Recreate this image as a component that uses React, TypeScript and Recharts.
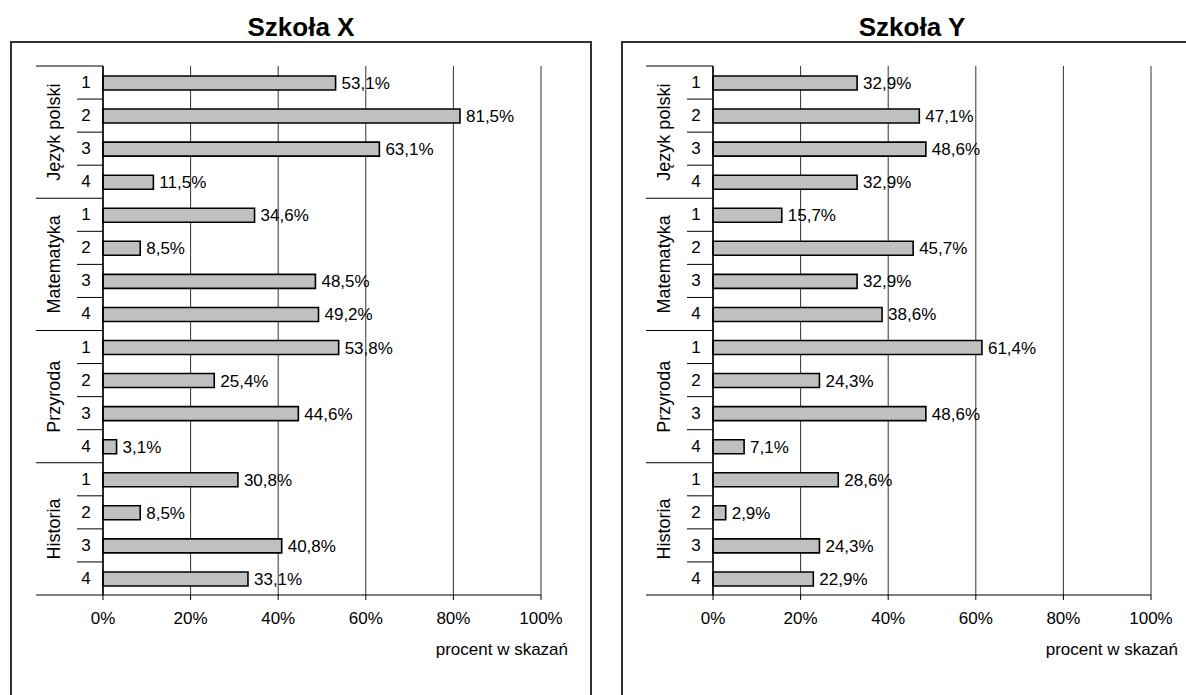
import React from 'react';
import { BarChart, Bar, XAxis, YAxis, CartesianGrid, LabelList, Label } from 'recharts';

const subjects = ['Język polski', 'Matematyka', 'Przyroda', 'Historia'];
const items = ['1', '2', '3', '4'];
const schoolXValues = [53.1, 81.5, 63.1, 11.5, 34.6, 8.5, 48.5, 49.2, 53.8, 25.4, 44.6, 3.1, 30.8, 8.5, 40.8, 33.1];
const schoolYValues = [32.9, 47.1, 48.6, 32.9, 15.7, 45.7, 32.9, 38.6, 61.4, 24.3, 48.6, 7.1, 28.6, 2.9, 24.3, 22.9];
const xTicks = [0, 20, 40, 60, 80, 100];
const titles = ['Szkoła X', 'Szkoła Y'];
const axisTitle = 'procent w skazań';

const FONT = '"Liberation Sans", Arial, sans-serif';
const W = 578;
const H = 650;
const MARGIN = { top: 24, right: 49, bottom: 57, left: 0 };
const Y_AXIS_W = 91;
const X_AXIS_H = 40;
const PLOT_H = H - MARGIN.top - MARGIN.bottom - X_AXIS_H;
const BAND = PLOT_H / 16;

function buildRows(values: number[]) {
  return subjects.flatMap((s, si) =>
    items.map((it, ii) => ({ key: `${s}|${it}`, subject: s, item: it, value: values[si * 4 + ii] }))
  );
}

function CategoryTick(props: any) {
  const { x, y, payload, index } = props;
  const [subject, item] = String(payload.value).split('|');
  const pos = index % 4;
  const half = BAND / 2;
  const gx = x - 49;
  const gy = y + 1.5 * BAND;
  return (
    <g>
      <text x={x - 17} y={y} textAnchor="middle" dominantBaseline="central" fontSize={17} fontFamily={FONT} fill="#000">
        {item}
      </text>
      {pos < 3 && <line x1={x - 26} x2={x} y1={y + half} y2={y + half} stroke="#000" strokeWidth={1} />}
      {pos === 3 && <line x1={x - 67} x2={x} y1={y + half} y2={y + half} stroke="#000" strokeWidth={1} />}
      {index === 0 && <line x1={x - 67} x2={x} y1={y - half} y2={y - half} stroke="#000" strokeWidth={1} />}
      {pos === 0 && (
        <text
          x={gx}
          y={gy}
          textAnchor="middle"
          dominantBaseline="central"
          fontSize={18}
          fontFamily={FONT}
          fill="#000"
          transform={`rotate(-90, ${gx}, ${gy})`}
        >
          {subject}
        </text>
      )}
    </g>
  );
}

const fmt = (v: any) => `${Number(v).toFixed(1).replace('.', ',')}%`;

function Panel({ values }: { values: number[] }) {
  const rows = buildRows(values);
  return (
    <BarChart width={W} height={H} data={rows} layout="vertical" margin={MARGIN} barSize={14}>
      <CartesianGrid horizontal={false} vertical stroke="#333" strokeWidth={1} />
      <XAxis
        xAxisId="top"
        orientation="top"
        type="number"
        domain={[0, 100]}
        ticks={xTicks}
        tick={false}
        tickLine={false}
        height={0}
        axisLine={{ stroke: '#000', strokeWidth: 1 }}
      />
      <XAxis
        type="number"
        domain={[0, 100]}
        ticks={xTicks}
        tickFormatter={(v) => `${v}%`}
        tick={{ fontSize: 17, fontFamily: FONT, fill: '#000' }}
        tickSize={5}
        tickMargin={12}
        height={X_AXIS_H}
        axisLine={{ stroke: '#000', strokeWidth: 1 }}
        tickLine={{ stroke: '#000' }}
      >
        <Label
          content={(p: any) => {
            const vb = p.viewBox || {};
            return (
              <text
                x={vb.x + vb.width + 27}
                y={vb.y + 60}
                textAnchor="end"
                fontSize={17}
                fontFamily={FONT}
                fill="#000"
              >
                {axisTitle}
              </text>
            );
          }}
        />
      </XAxis>
      <YAxis
        type="category"
        dataKey="key"
        width={Y_AXIS_W}
        interval={0}
        tickSize={0}
        tickMargin={0}
        tickLine={false}
        axisLine={{ stroke: '#000', strokeWidth: 1.5 }}
        tick={(p: any) => <CategoryTick {...p} />}
      />
      <Bar dataKey="value" fill="#c0c0c0" stroke="#000" strokeWidth={1.6} isAnimationActive={false}>
        <LabelList
          dataKey="value"
          position="right"
          offset={6}
          formatter={fmt}
          style={{ fontSize: 17, fontFamily: FONT, fill: '#000' }}
        />
      </Bar>
    </BarChart>
  );
}

export default function App() {
  const boxStyle = (left: number): React.CSSProperties => ({
    position: 'absolute',
    left,
    top: 41,
    width: 578,
    height: 700,
    border: '2px solid #333',
    borderBottom: 'none',
  });
  const titleStyle = (left: number): React.CSSProperties => ({
    position: 'absolute',
    left,
    top: 12,
    width: 582,
    textAlign: 'center',
    fontFamily: FONT,
    fontWeight: 'bold',
    fontSize: 26,
    lineHeight: '30px',
    color: '#000',
  });
  return (
    <div
      style={{
        position: 'fixed',
        left: 0,
        top: 0,
        width: 1186,
        height: 695,
        overflow: 'hidden',
        background: '#fff',
      }}
    >
      <div style={titleStyle(10)}>{titles[0]}</div>
      <div style={titleStyle(621)}>{titles[1]}</div>
      <div style={boxStyle(10)} />
      <div style={boxStyle(621)} />
      <div style={{ position: 'absolute', left: 12, top: 42 }}>
        <Panel values={schoolXValues} />
      </div>
      <div style={{ position: 'absolute', left: 622, top: 42 }}>
        <Panel values={schoolYValues} />
      </div>
    </div>
  );
}
